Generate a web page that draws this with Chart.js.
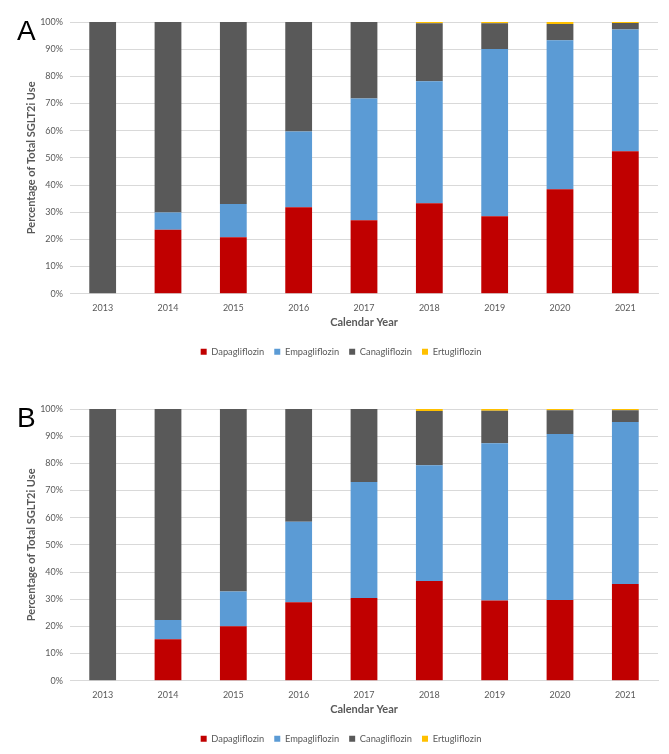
<!DOCTYPE html>
<html>
<head>
<meta charset="utf-8">
<script src="https://cdn.jsdelivr.net/npm/chart.js@4.4.1/dist/chart.umd.min.js"></script>
<style>
  html, body { margin: 0; padding: 0; background: #fff; overflow: hidden; }
  #wrap { position: relative; width: 669px; height: 754px; }
  canvas { position: absolute; left: 0; }
  #chartA { top: 0; }
  #chartB { top: 387px; }
  .panel { position: absolute; left: 17px; font: 28px 'Liberation Sans', Arial, sans-serif; line-height: 1; color: #000; }
</style>
</head>
<body>
<div id="wrap">
  <canvas id="chartA" width="669" height="387"></canvas>
  <canvas id="chartB" width="669" height="387"></canvas>
  <div class="panel" style="top:17px">A</div>
  <div class="panel" style="top:404px">B</div>
</div>
<script>
const years = ['2013', '2014', '2015', '2016', '2017', '2018', '2019', '2020', '2021'];
const seriesNames = ['Dapagliflozin', 'Empagliflozin', 'Canagliflozin', 'Ertugliflozin'];
const seriesColors = ['#C00000', '#5B9BD5', '#595959', '#FFC000'];

// Panel A (percent of total SGLT2i use)
const dapaA = [0, 23.5, 20.8, 31.8, 27.0, 33.3, 28.5, 38.4, 52.4];
const empaA = [0, 6.4, 12.2, 27.9, 44.8, 44.9, 61.6, 54.9, 44.8];
const canaA = [100, 70.1, 67.0, 40.3, 28.2, 21.3, 9.4, 6.0, 2.4];
const ertuA = [0, 0, 0, 0, 0, 0.5, 0.5, 0.7, 0.4];

// Panel B
const dapaB = [0, 15.3, 20.0, 28.9, 30.4, 36.7, 29.5, 29.7, 35.6];
const empaB = [0, 7.0, 12.8, 29.6, 42.7, 42.6, 57.9, 61.1, 59.6];
const canaB = [100, 77.7, 67.2, 41.5, 26.9, 20.0, 12.0, 8.7, 4.3];
const ertuB = [0, 0, 0, 0, 0, 0.7, 0.6, 0.5, 0.5];

const fontFamily = "Lato, 'Open Sans', sans-serif";
const textColor = '#595959';
const gridColor = '#D9D9D9';

function makeChart(id, values) {
    const ctx = document.getElementById(id).getContext('2d');
    return new Chart(ctx, {
        type: 'bar',
        data: {
            labels: years,
            datasets: values.map((v, i) => ({
                label: seriesNames[i],
                data: v,
                backgroundColor: seriesColors[i],
                borderWidth: 0,
                categoryPercentage: 1,
                barPercentage: 0.41
            }))
        },
        options: {
            responsive: false,
            animation: false,
            layout: { padding: { top: 22, right: 11, bottom: 20.5, left: 24 } },
            plugins: {
                legend: {
                    position: 'bottom',
                    labels: {
                        boxWidth: 6,
                        boxHeight: 6,
                        padding: 10,
                        color: textColor,
                        font: { family: fontFamily, size: 9.3 }
                    }
                },
                tooltip: { enabled: false }
            },
            scales: {
                x: {
                    stacked: true,
                    grid: { display: false, drawTicks: false },
                    border: { color: gridColor },
                    ticks: { color: textColor, padding: 9, font: { family: fontFamily, size: 9 }, maxRotation: 0 },
                    title: {
                        display: true,
                        text: 'Calendar Year',
                        color: textColor,
                        font: { family: fontFamily, size: 11, weight: 'bold' },
                        padding: { top: 0, bottom: 8 }
                    },
                    afterFit: (scale) => { scale.height = 43.5; }
                },
                y: {
                    stacked: true,
                    min: 0,
                    max: 100,
                    grid: { color: gridColor, drawTicks: false },
                    border: { display: false },
                    ticks: {
                        stepSize: 10,
                        color: textColor,
                        padding: 7,
                        font: { family: fontFamily, size: 9 },
                        callback: (v) => v + '%'
                    },
                    title: {
                        display: true,
                        text: 'Percentage of Total SGLT2i Use',
                        color: textColor,
                        font: { family: fontFamily, size: 11, weight: 'bold' },
                        padding: { top: 1, bottom: 0 }
                    },
                    afterFit: (scale) => { scale.width = 46; }
                }
            }
        }
    });
}

makeChart('chartA', [dapaA, empaA, canaA, ertuA]);
makeChart('chartB', [dapaB, empaB, canaB, ertuB]);
</script>
</body>
</html>
